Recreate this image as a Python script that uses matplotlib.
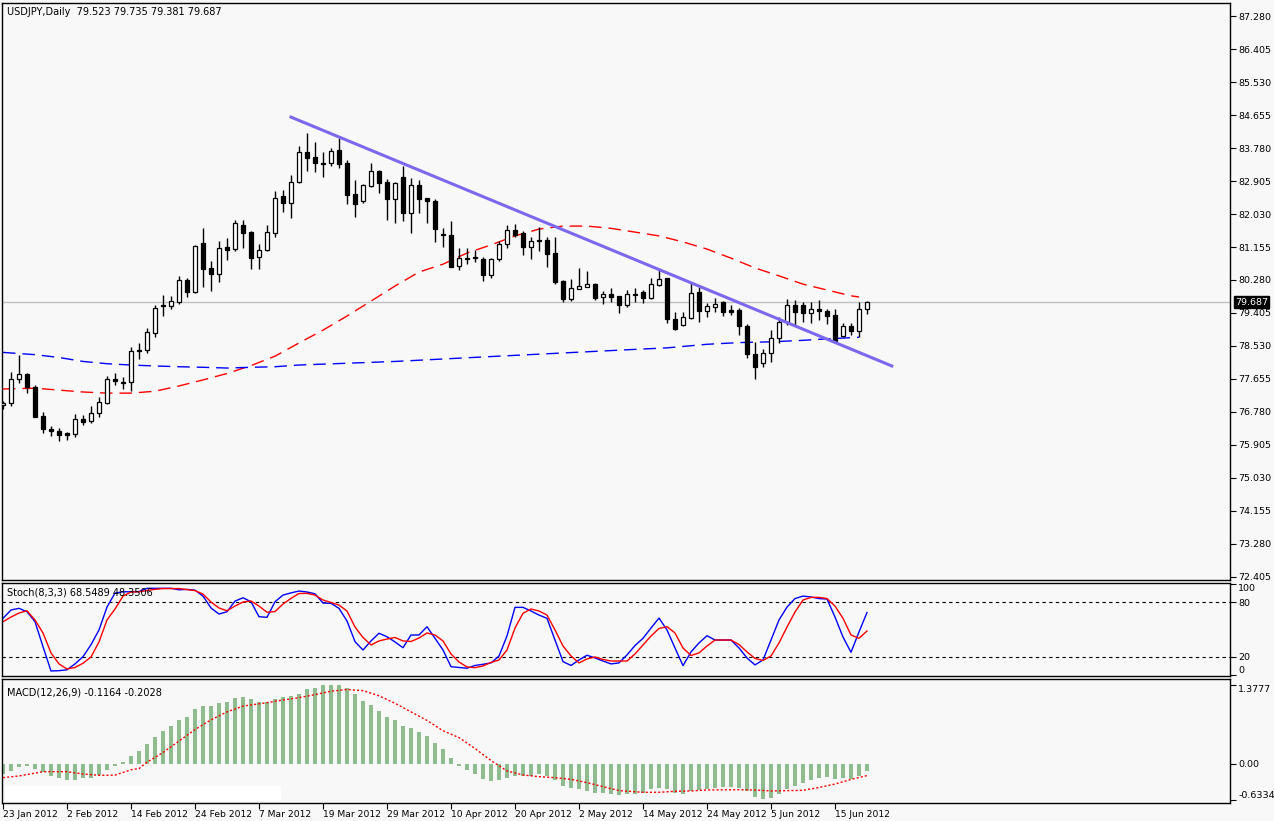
import numpy as np
import pandas as pd
import matplotlib
matplotlib.use('Agg')
import matplotlib.pyplot as plt
from matplotlib.patches import Rectangle

# daily USDJPY candles, 23 Jan 2012 .. 21 Jun 2012
opens = [76.96, 77.01, 77.65, 77.79, 77.43, 76.67, 76.33, 76.28, 76.21, 76.20,
         76.59, 76.54, 76.75, 77.03, 77.66, 77.57, 77.57, 78.42, 78.42, 78.88,
         79.62, 79.60, 79.70, 80.28, 79.97, 81.25, 80.60, 80.43, 81.155, 81.09,
         81.73, 81.55, 80.88, 81.07, 81.52, 82.51, 82.31, 82.87, 83.67, 83.53,
         83.38, 83.37, 83.73, 83.39, 82.56, 82.38, 82.78, 83.17, 82.88, 82.44,
         83.00, 82.05, 82.79, 82.455, 82.375, 81.50, 81.47, 80.66, 80.86, 80.89,
         80.83, 80.405, 80.83, 81.23, 81.61, 81.52, 81.16, 81.34, 81.34, 81.00,
         80.26, 79.78, 80.05, 80.10, 80.165, 79.82, 79.90, 79.85, 79.62, 79.90,
         79.95, 79.81, 80.155, 80.33, 79.24, 79.095, 79.28, 79.95, 79.47, 79.57,
         79.69, 79.485, 79.485, 79.06, 78.31, 78.07, 78.34, 78.735, 79.175, 79.62,
         79.62, 79.41, 79.50, 79.46, 79.35, 78.795, 79.07, 78.935, 79.523]
highs = [77.08, 77.84, 78.29, 77.82, 77.50, 76.79, 76.41, 76.35, 76.25, 76.73,
         76.70, 76.94, 77.19, 77.73, 77.81, 77.72, 78.51, 78.60, 79.01, 79.62,
         79.88, 79.86, 80.39, 80.33, 81.21, 81.67, 80.78, 81.32, 81.40, 81.87,
         81.87, 81.59, 81.235, 81.73, 82.64, 82.67, 83.06, 83.83, 84.17, 83.94,
         83.67, 83.77, 84.04, 83.46, 82.93, 82.83, 83.39, 83.20, 82.95, 82.89,
         83.30, 82.98, 82.93, 82.46, 82.42, 81.65, 81.84, 81.12, 81.12, 81.08,
         80.88, 80.855, 81.32, 81.74, 81.765, 81.58, 81.43, 81.68, 81.41, 81.43,
         80.28, 80.31, 80.59, 80.53, 80.19, 79.995, 80.06, 79.86, 80.015, 80.08,
         80.015, 80.32, 80.545, 80.33, 79.44, 79.44, 80.19, 80.10, 79.66, 79.795,
         79.73, 79.62, 79.53, 79.11, 78.63, 78.45, 78.955, 79.31, 79.78, 79.75,
         79.70, 79.70, 79.75, 79.50, 79.50, 79.15, 79.15, 79.69, 79.735]
lows = [76.85, 76.94, 77.54, 77.28, 76.64, 76.21, 76.14, 76.02, 76.04, 76.12,
        76.43, 76.48, 76.64, 76.99, 77.50, 77.38, 77.34, 78.18, 78.34, 78.78,
        79.33, 79.51, 79.64, 79.84, 79.93, 80.10, 80.00, 80.24, 80.81, 81.06,
        81.14, 80.56, 80.56, 81.06, 81.43, 82.09, 81.93, 82.86, 83.18, 83.15,
        83.00, 83.30, 83.26, 82.30, 81.96, 82.33, 82.75, 82.60, 81.87, 81.80,
        81.85, 81.53, 82.06, 81.80, 81.30, 81.16, 80.63, 80.545, 80.70, 80.77,
        80.26, 80.325, 80.78, 81.14, 81.43, 80.94, 80.84, 81.05, 80.63, 80.165,
        79.70, 79.73, 80.03, 80.085, 79.75, 79.64, 79.70, 79.41, 79.57, 79.70,
        79.66, 79.78, 80.12, 79.13, 78.955, 79.06, 79.25, 79.175, 79.31, 79.44,
        79.33, 79.35, 78.82, 78.20, 77.65, 77.965, 78.10, 78.62, 79.09, 79.07,
        79.175, 79.15, 79.22, 79.11, 78.64, 78.78, 78.82, 78.76, 79.381]
closes = [77.03, 77.65, 77.79, 77.43, 76.65, 76.32, 76.27, 76.18, 76.18, 76.59,
          76.52, 76.75, 77.04, 77.65, 77.60, 77.55, 78.41, 78.40, 78.91, 79.53,
          79.58, 79.72, 80.28, 79.97, 81.18, 80.58, 80.44, 81.12, 81.08, 81.78,
          81.535, 80.87, 81.08, 81.545, 82.45, 82.31, 82.87, 83.67, 83.52, 83.39,
          83.36, 83.71, 83.36, 82.54, 82.30, 82.80, 83.17, 82.86, 82.44, 82.86,
          82.05, 82.79, 82.44, 82.37, 81.62, 81.465, 80.63, 80.855, 80.85, 80.87,
          80.405, 80.83, 81.23, 81.61, 81.47, 81.165, 81.31, 81.305, 80.96, 80.235,
          79.78, 80.06, 80.11, 80.165, 79.81, 79.90, 79.84, 79.62, 79.90, 79.89,
          79.81, 80.165, 80.30, 79.25, 78.99, 79.29, 79.945, 79.465, 79.59, 79.64,
          79.44, 79.43, 79.06, 78.31, 77.98, 78.34, 78.735, 79.175, 79.62, 79.44,
          79.41, 79.50, 79.465, 79.325, 78.67, 79.07, 78.935, 79.50, 79.687]

# moving averages (red and blue dashed), read at a few bars
red_ma_idx = [0, 4, 7, 10, 13, 16, 19, 22, 25, 28, 31, 34, 37, 40, 43, 46, 49, 52, 55,
              58, 61, 64, 67, 70, 73, 76, 79, 82, 85, 88, 91, 94, 97, 100, 103, 106, 107]
red_ma = [77.39, 77.41, 77.36, 77.31, 77.28, 77.28, 77.33, 77.47, 77.63, 77.80, 78.01,
          78.26, 78.61, 78.95, 79.325, 79.72, 80.12, 80.49, 80.70, 80.995, 81.21, 81.45,
          81.63, 81.71, 81.71, 81.65, 81.55, 81.45, 81.29, 81.10, 80.86, 80.60, 80.39,
          80.17, 80.015, 79.86, 79.83]
blue_ma_idx = [0, 4, 7, 10, 13, 16, 19, 22, 25, 28, 31, 34, 37, 49, 61, 70, 79, 83, 88,
               92, 96, 100, 103, 107]
blue_ma = [78.36, 78.30, 78.225, 78.12, 78.06, 78.025, 78.00, 77.98, 77.965, 77.945,
           77.965, 77.98, 78.025, 78.12, 78.25, 78.345, 78.44, 78.48, 78.575, 78.62,
           78.64, 78.68, 78.72, 78.76]

# hand drawn trend line (bar index, price)
trend_idx = [36, 111.1]
trend_price = [84.60, 78.00]

# Stochastic(8,3,3)
stoch_k = [62.2, 71.3, 73.1, 69.4, 58.5, 31.2, 4.7, 5.0, 6.0, 12.4,
           20.3, 33.4, 49.5, 74.5, 89.8, 91.2, 91.2, 91.5, 95.0, 95.0,
           95.0, 95.0, 93.4, 93.8, 93.0, 86.5, 73.5, 66.9, 69.4, 81.0,
           84.7, 80.3, 64.0, 63.3, 80.3, 87.6, 90.0, 92.0, 91.0, 89.0,
           78.9, 78.6, 73.1, 59.3, 36.7, 27.6, 37.5, 45.9, 42.1, 36.4,
           30.1, 44.0, 44.0, 53.0, 40.4, 27.6, 9.4, 8.5, 7.7, 10.7,
           12.0, 13.5, 21.0, 43.0, 74.2, 74.2, 70.2, 65.8, 62.2, 38.5,
           14.9, 10.7, 16.7, 21.9, 18.9, 15.6, 12.4, 13.5, 22.2, 32.5,
           40.4, 51.6, 62.5, 49.5, 29.8, 10.5, 25.5, 35.3, 43.2, 38.5,
           38.5, 38.5, 29.8, 18.9, 11.3, 16.7, 38.5, 60.4, 74.5, 83.8,
           86.5, 85.5, 83.8, 83.3, 63.6, 41.8, 25.1, 47.3, 68.5489]
stoch_d = [58.5, 63.6, 68.0, 70.5, 60.4, 46.2, 24.4, 12.4, 6.9, 8.5,
           13.1, 20.0, 36.4, 60.4, 72.4, 86.5, 90.9, 91.2, 92.5, 93.9,
           94.7, 94.7, 94.7, 93.6, 92.5, 88.7, 80.0, 73.5, 70.5, 75.6,
           80.0, 81.1, 75.6, 68.8, 69.6, 77.8, 84.0, 89.3, 89.5, 87.6,
           82.2, 79.5, 76.7, 70.2, 52.7, 41.3, 33.1, 37.5, 39.6, 41.3,
           37.5, 36.9, 40.7, 46.2, 44.0, 37.5, 23.3, 14.5, 9.1, 8.3,
           10.2, 14.0, 16.7, 27.6, 51.6, 67.7, 72.4, 70.2, 65.8, 49.5,
           32.0, 21.1, 13.5, 17.8, 20.0, 17.3, 15.6, 15.6, 15.6, 23.3,
           33.1, 42.9, 51.1, 53.1, 46.2, 29.8, 21.6, 24.4, 32.0, 38.5,
           38.5, 38.5, 33.6, 25.5, 18.4, 16.2, 21.1, 35.3, 52.7, 69.1,
           82.2, 85.1, 85.1, 83.8, 75.6, 62.2, 44.0, 40.4, 48.3506]

# MACD(12,26,9)
macd_hist = [-0.180, -0.117, -0.047, -0.035, -0.087, -0.134, -0.204, -0.239, -0.274, -0.274,
             -0.250, -0.239, -0.192, -0.099, -0.035, 0.035, 0.140, 0.227, 0.349, 0.477,
             0.576, 0.669, 0.768, 0.826, 0.960, 1.018, 1.018, 1.065, 1.082, 1.152,
             1.175, 1.134, 1.082, 1.082, 1.129, 1.169, 1.187, 1.227, 1.309, 1.321,
             1.378, 1.373, 1.378, 1.326, 1.222, 1.099, 1.030, 0.925, 0.820, 0.768,
             0.663, 0.623, 0.558, 0.489, 0.372, 0.262, 0.105, -0.035, -0.099, -0.169,
             -0.262, -0.291, -0.279, -0.239, -0.209, -0.209, -0.209, -0.180, -0.209, -0.279,
             -0.384, -0.419, -0.442, -0.465, -0.500, -0.500, -0.518, -0.541, -0.529, -0.518,
             -0.500, -0.442, -0.413, -0.442, -0.500, -0.518, -0.471, -0.459, -0.436, -0.413,
             -0.396, -0.401, -0.424, -0.465, -0.570, -0.605, -0.588, -0.518, -0.430, -0.378,
             -0.326, -0.279, -0.239, -0.221, -0.262, -0.239, -0.256, -0.204, -0.1164]
signal_idx = [0, 2, 4, 5, 8, 10, 12, 14, 16, 17, 18, 20, 22, 24, 26, 28, 30, 33, 35, 37,
              39, 41, 43, 45, 47, 49, 51, 53, 55, 57, 59, 61, 63, 65, 67, 69, 71, 73, 75, 77,
              80, 82, 84, 86, 88, 90, 92, 94, 96, 98, 100, 102, 104, 106, 108]
signal_vals = [-0.239, -0.209, -0.160, -0.134, -0.134, -0.175, -0.198, -0.195, -0.10, -0.08,
               0.03, 0.20, 0.40, 0.60, 0.77, 0.91, 1.01, 1.07, 1.117, 1.157,
               1.21, 1.27, 1.30, 1.28, 1.19, 1.06, 0.91, 0.76, 0.58, 0.46,
               0.27, 0.06, -0.122, -0.192, -0.221, -0.239, -0.268, -0.326, -0.396, -0.465,
               -0.494, -0.494, -0.477, -0.470, -0.454, -0.450, -0.450, -0.454, -0.471, -0.465,
               -0.46, -0.41, -0.35, -0.27, -0.2028]

price_ticks = [72.405, 73.280, 74.155, 75.030, 75.905, 76.780, 77.655, 78.530, 79.405,
               80.280, 81.155, 82.030, 82.905, 83.780, 84.655, 85.530, 86.405, 87.280]
last_price = 79.687
title_text = "USDJPY,Daily  79.523 79.735 79.381 79.687"
stoch_text = "Stoch(8,3,3) 68.5489 48.3506"
macd_text = "MACD(12,26,9) -0.1164 -0.2028"

opens = np.array(opens)
closes = np.array(closes)
idx = np.arange(len(closes))
dates = pd.bdate_range('2012-01-23', periods=len(closes))

W, H = 1274, 821
BG = '#f8f8f8'
FS = 7
fig = plt.figure(figsize=(W / 100, H / 100), dpi=100, facecolor=BG)


def panel(top, bottom, left=2, right=1230):
    return [left / W, 1 - bottom / H, (right - left) / W, (bottom - top) / H]


ax = fig.add_axes(panel(3, 580))
ax_st = fig.add_axes(panel(583, 676))
ax_m = fig.add_axes(panel(679, 803))

for a in (ax, ax_st, ax_m):
    a.set_facecolor(BG)
    a.set_xlim(-0.125, 153.375)
    for s in a.spines.values():
        s.set_color('black')
        s.set_linewidth(1)
    a.yaxis.tick_right()
    a.tick_params(axis='y', which='both', length=4, width=0.8, labelsize=6.8, pad=2,
                  direction='out', colors='black')
    a.tick_params(axis='x', bottom=False, labelbottom=False)

# ---- price panel
ax.set_ylim(72.324, 87.626)
ax.axhline(last_price, color='#c0c0c0', lw=1, zorder=1)
ax.plot(red_ma_idx, red_ma, color='red', lw=1, dashes=(9, 5), zorder=2)
ax.plot(blue_ma_idx, blue_ma, color='blue', lw=1, dashes=(9, 5), zorder=2)
ax.vlines(idx, lows, highs, color='black', lw=1, zorder=3)
bull = closes >= opens
ax.bar(idx, np.abs(closes - opens), bottom=np.minimum(opens, closes), width=0.55,
       color=np.where(bull, 'white', 'black'), edgecolor='black', linewidth=0.9, zorder=4)
ax.plot(trend_idx, trend_price, color='#7b68ee', lw=2.2, zorder=5)
ax.set_yticks(price_ticks)
ax.set_yticklabels([f"{p:.3f}" for p in price_ticks])
ax.annotate(f"{last_price:.3f}", xy=(1, last_price), xycoords=('axes fraction', 'data'),
            xytext=(5, 0), textcoords='offset pixels', va='center', ha='left',
            fontsize=6.8, color='white',
            bbox=dict(boxstyle='square,pad=0.15', fc='black', ec='black'), zorder=10,
            annotation_clip=False)
ax.text(0.004, 0.993, title_text, transform=ax.transAxes, va='top', ha='left', fontsize=FS)

# ---- stochastic panel
ax_st.set_ylim(-0.8, 100.8)
ax_st.axhline(80, color='black', lw=0.8, dashes=(3, 3))
ax_st.axhline(20, color='black', lw=0.8, dashes=(3, 3))
ax_st.plot(idx, stoch_k, color='blue', lw=1)
ax_st.plot(idx, stoch_d, color='red', lw=1)
ax_st.set_yticks([0, 20, 80, 100])
ax_st.set_yticklabels(['0', '20', '80', '100'])
labs = ax_st.get_yticklabels()
labs[0].set_va('bottom')
labs[3].set_va('top')
ax_st.text(0.004, 0.95, stoch_text, transform=ax_st.transAxes, va='top', ha='left', fontsize=FS)

# ---- MACD panel
ax_m.set_ylim(-0.681, 1.483)
ax_m.bar(idx, macd_hist, width=0.4, color='#8fbc8f', zorder=2)
ax_m.plot(signal_idx, signal_vals, color='red', lw=1, dashes=(1.5, 1.5), zorder=3)
ax_m.set_yticks([-0.6334, 0.0, 1.3777])
ax_m.set_yticklabels(['-0.6334', '0.00', '1.3777'])
mlabs = ax_m.get_yticklabels()
mlabs[0].set_va('bottom')
mlabs[2].set_va('top')
ax_m.text(0.004, 0.93, macd_text, transform=ax_m.transAxes, va='top', ha='left', fontsize=FS)
fig.add_artist(Rectangle((5 / W, 1 - 801 / H), 276 / W, 15 / H, transform=fig.transFigure,
                         fc='white', ec='none'))

tick_pos = idx[::8]
ax_m.set_xticks(tick_pos)
ax_m.set_xticklabels([f"{d.day} {d.strftime('%b %Y')}" for d in dates[::8]], ha='left')
ax_m.tick_params(axis='x', bottom=True, labelbottom=True, length=4, width=0.8,
                 labelsize=6.6, pad=1, direction='out')

fig.savefig('out.png', dpi=100, facecolor=BG)
